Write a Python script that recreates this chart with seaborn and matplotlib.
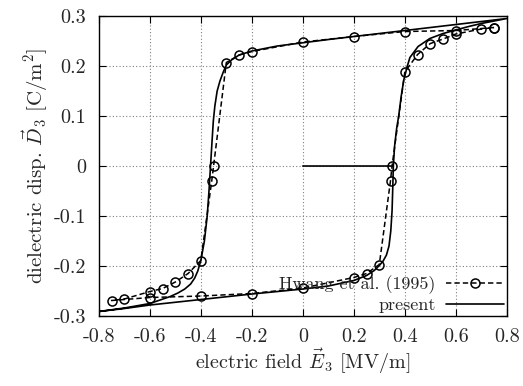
import pandas as pd
import matplotlib.pyplot as plt
import seaborn as sns

# Hwang et al. (1995) measurements, in loop order
hwang_E = [0.75, 0.60, 0.40, 0.20, 0.00, -0.20, -0.25, -0.30, -0.35, -0.357,
           -0.40, -0.45, -0.50, -0.55, -0.60, -0.70, -0.75,
           -0.60, -0.40, -0.20, 0.00, 0.20, 0.25, 0.30, 0.344, 0.35,
           0.40, 0.45, 0.50, 0.55, 0.60, 0.70, 0.75]
hwang_D = [0.277, 0.271, 0.269, 0.259, 0.248, 0.229, 0.222, 0.207, 0.000, -0.029,
           -0.189, -0.215, -0.232, -0.245, -0.251, -0.266, -0.269,
           -0.263, -0.260, -0.255, -0.244, -0.223, -0.215, -0.197, -0.029, 0.000,
           0.188, 0.223, 0.245, 0.254, 0.264, 0.274, 0.277]

# present model: initial poling, rising branch, upper branch, lower branch
present_E = [0.0, 0.355,
             0.360, 0.368, 0.376, 0.386, 0.396, 0.410, 0.420, 0.452, 0.498,
             0.55, 0.60, 0.65, 0.70, 0.80,
             0.40, 0.10, -0.10, -0.20, -0.25, -0.28, -0.30, -0.312, -0.325,
             -0.336, -0.345, -0.351, -0.356, -0.362, -0.368, -0.375, -0.386,
             -0.40, -0.412, -0.424, -0.44, -0.463, -0.49, -0.52, -0.56, -0.60,
             -0.70, -0.80,
             -0.70, -0.60, -0.40, -0.20, 0.00, 0.10, 0.20, 0.25, 0.28, 0.30,
             0.315, 0.328, 0.338, 0.345, 0.350, 0.353, 0.355]
present_D = [0.0, 0.0,
             0.040, 0.075, 0.100, 0.140, 0.172, 0.200, 0.217, 0.239, 0.255,
             0.265, 0.272, 0.279, 0.285, 0.295,
             0.271, 0.253, 0.240, 0.230, 0.222, 0.212, 0.202, 0.188, 0.170,
             0.150, 0.120, 0.090, 0.050, 0.000, -0.050, -0.100, -0.150,
             -0.189, -0.210, -0.224, -0.236, -0.246, -0.254, -0.261, -0.268, -0.275,
             -0.284, -0.291,
             -0.285, -0.278, -0.267, -0.256, -0.246, -0.240, -0.229, -0.219, -0.209, -0.199,
             -0.190, -0.178, -0.160, -0.130, -0.090, -0.040, 0.000]

xtick_vals = [-0.8, -0.6, -0.4, -0.2, 0.0, 0.2, 0.4, 0.6, 0.8]
xtick_labels = ["-0.8", "-0.6", "-0.4", "-0.2", "0", "0.2", "0.4", "0.6", "0.8"]
ytick_vals = [-0.3, -0.2, -0.1, 0.0, 0.1, 0.2, 0.3]
ytick_labels = ["-0.3", "-0.2", "-0.1", "0", "0.1", "0.2", "0.3"]

hwang = pd.DataFrame({"E": hwang_E, "D": hwang_D})
present = pd.DataFrame({"E": present_E, "D": present_D})

sns.set_style("ticks")
plt.rcParams["font.family"] = ["cmr10"]
plt.rcParams["mathtext.fontset"] = "cm"
plt.rcParams["axes.unicode_minus"] = False

fig = plt.figure(figsize=(5.23, 3.86), dpi=100)
ax = fig.add_axes([0.189, 0.1813, 0.780, 0.7772])

sns.lineplot(x="E", y="D", data=hwang, sort=False, estimator=None, ax=ax,
             color="black", lw=1.1, dashes=False, linestyle=(0, (3.5, 2)),
             marker="o", markersize=6.5, markerfacecolor="none",
             markeredgecolor="black", markeredgewidth=1.1,
             label="Hwang et al. (1995)")
sns.lineplot(x="E", y="D", data=present, sort=False, estimator=None, ax=ax,
             color="black", lw=1.2, label="present")

ax.set_xlim(-0.8, 0.8)
ax.set_ylim(-0.3, 0.3)
ax.set_xticks(xtick_vals)
ax.set_xticklabels(xtick_labels)
ax.set_yticks(ytick_vals)
ax.set_yticklabels(ytick_labels)
ax.grid(True, color="gray", linestyle=(0, (1, 2)), lw=0.8)
ax.tick_params(direction="in", top=True, right=True, length=5, width=0.8,
               labelsize=14.5, color="black")
ax.tick_params(axis="x", pad=9)
ax.tick_params(axis="y", pad=9)
for s in ax.spines.values():
    s.set_color("black")
    s.set_linewidth(1.0)

ax.set_xlabel(r"electric field $\vec{E}_3$ [MV/m]", fontsize=14.5, labelpad=0)
ax.set_ylabel(r"dielectric disp. $\vec{D}_3$ [C/m$^2$]", fontsize=15, labelpad=3)

ax.legend(loc="lower right", frameon=False, markerfirst=False, fontsize=13,
          handlelength=3.2, handletextpad=0.6, labelspacing=0.2,
          borderaxespad=0.0, borderpad=0.15)

plt.savefig("out.png", dpi=100)
